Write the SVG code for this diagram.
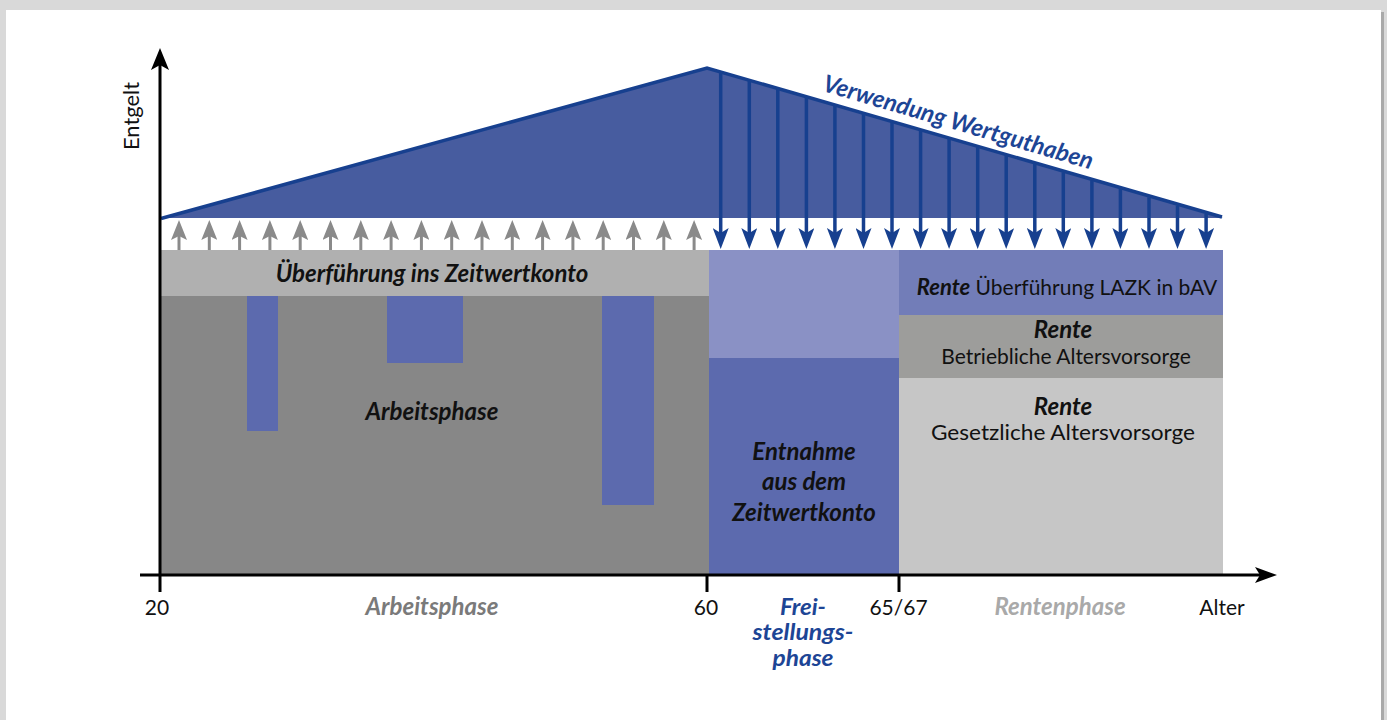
<svg xmlns="http://www.w3.org/2000/svg" width="1387" height="720" viewBox="0 0 1387 720">
<style>
text{font-family:Lato,"Open Sans","Liberation Sans",sans-serif;font-size:21px;fill:#111}
.bi{font-weight:bold;font-style:italic;font-size:24px}
.sm{font-size:22px}
.c{text-anchor:middle}
.blue{fill:#1d4595}
.ga{stroke:#8a8a8a;stroke-width:3;fill:none}
.ba{stroke:#17408f;stroke-width:3.5;fill:none}
.ax{stroke:#000;stroke-width:3;fill:none}
</style>
<defs>
<marker id="mGray" markerUnits="userSpaceOnUse" viewBox="0 0 20 16" markerWidth="20" markerHeight="16" refX="10" refY="8" orient="auto"><path d="M0,0 L20,8 L0,16 L4,8 Z" fill="#8a8a8a"/></marker>
<marker id="mBlue" markerUnits="userSpaceOnUse" viewBox="0 0 21 16" markerWidth="21" markerHeight="16" refX="11" refY="8" orient="auto"><path d="M0,0 L21,8 L0,16 L5,8 Z" fill="#17408f"/></marker>
<marker id="mAxisY" markerUnits="userSpaceOnUse" viewBox="0 0 22 18" markerWidth="22" markerHeight="18" refX="8" refY="9" orient="auto"><path d="M0,0 L22,9 L0,18 L5,9 Z" fill="#000"/></marker>
<marker id="mAxisX" markerUnits="userSpaceOnUse" viewBox="0 0 22 16" markerWidth="22" markerHeight="16" refX="8" refY="8" orient="auto"><path d="M0,0 L22,8 L0,16 L5,8 Z" fill="#000"/></marker>
</defs>
<rect x="0" y="0" width="1387" height="720" fill="#d9d9d9"/>
<rect x="8" y="12" width="1376" height="708" fill="#a9a9a9"/>
<rect x="6" y="10" width="1375" height="710" fill="#fff"/>

<g id="wertguthaben">
<polygon points="160,218 707,68 1223,218" fill="#475c9f"/>
<polyline points="161,218.5 707,68 1222,217" fill="none" stroke="#17408f" stroke-width="3.5"/>
<text class="bi blue c" x="956" y="130" transform="rotate(16.3 956 130)">Verwendung Wertguthaben</text>
</g>

<g id="ueberfuehrung">
<rect x="160" y="250" width="549" height="46" fill="#b0b0b0"/>
<text class="bi c" x="432" y="282">Überführung ins Zeitwertkonto</text>
</g>

<g id="arbeitsphase">
<rect x="160" y="296" width="549" height="279" fill="#878787"/>
<rect x="247" y="296" width="31" height="135" fill="#5c6aae"/>
<rect x="387" y="296" width="76" height="67" fill="#5c6aae"/>
<rect x="602" y="296" width="52" height="209" fill="#5c6aae"/>
<text class="bi c" x="432" y="420">Arbeitsphase</text>
</g>

<g id="freistellung">
<rect x="709" y="250" width="190" height="108" fill="#8a91c5"/>
<rect x="709" y="358" width="190" height="217" fill="#5c6aae"/>
<text class="bi c" x="804" y="460">Entnahme</text>
<text class="bi c" x="804" y="490">aus dem</text>
<text class="bi c" x="804" y="521">Zeitwertkonto</text>
</g>

<g id="rente-lazk">
<rect x="899" y="250" width="324" height="65" fill="#727db8"/>
<text class="c" x="1067" y="295"><tspan class="bi" style="font-size:22px">Rente</tspan> Überführung LAZK in bAV</text>
</g>

<g id="rente-bav">
<rect x="899" y="315" width="324" height="63" fill="#9d9d9b"/>
<text class="bi c" x="1063" y="338">Rente</text>
<text class="c" x="1066" y="364">Betriebliche Altersvorsorge</text>
</g>

<g id="rente-gesetzlich">
<rect x="899" y="378" width="324" height="197" fill="#c6c6c6"/>
<text class="bi c" x="1063" y="415">Rente</text>
<text class="c" x="1063" y="440" textLength="264" lengthAdjust="spacingAndGlyphs">Gesetzliche Altersvorsorge</text>
</g>

<g id="connectors">
<g class="ga" marker-end="url(#mGray)">
<line x1="179" y1="250" x2="179" y2="230"/>
<line x1="209.3" y1="250" x2="209.3" y2="230"/>
<line x1="239.6" y1="250" x2="239.6" y2="230"/>
<line x1="269.9" y1="250" x2="269.9" y2="230"/>
<line x1="300.2" y1="250" x2="300.2" y2="230"/>
<line x1="330.5" y1="250" x2="330.5" y2="230"/>
<line x1="360.8" y1="250" x2="360.8" y2="230"/>
<line x1="391.1" y1="250" x2="391.1" y2="230"/>
<line x1="421.4" y1="250" x2="421.4" y2="230"/>
<line x1="451.7" y1="250" x2="451.7" y2="230"/>
<line x1="482" y1="250" x2="482" y2="230"/>
<line x1="512.3" y1="250" x2="512.3" y2="230"/>
<line x1="542.6" y1="250" x2="542.6" y2="230"/>
<line x1="572.9" y1="250" x2="572.9" y2="230"/>
<line x1="603.2" y1="250" x2="603.2" y2="230"/>
<line x1="633.5" y1="250" x2="633.5" y2="230"/>
<line x1="663.8" y1="250" x2="663.8" y2="230"/>
<line x1="694.1" y1="250" x2="694.1" y2="230"/>
</g>
<g class="ba" marker-end="url(#mBlue)">
<line x1="720.7" y1="72" x2="720.7" y2="239"/>
<line x1="749.3" y1="80.4" x2="749.3" y2="239"/>
<line x1="777.8" y1="88.7" x2="777.8" y2="239"/>
<line x1="806.4" y1="97.1" x2="806.4" y2="239"/>
<line x1="834.9" y1="105.4" x2="834.9" y2="239"/>
<line x1="863.5" y1="113.8" x2="863.5" y2="239"/>
<line x1="892" y1="122.1" x2="892" y2="239"/>
<line x1="920.6" y1="130.5" x2="920.6" y2="239"/>
<line x1="949.1" y1="138.8" x2="949.1" y2="239"/>
<line x1="977.7" y1="147.2" x2="977.7" y2="239"/>
<line x1="1006.2" y1="155.5" x2="1006.2" y2="239"/>
<line x1="1034.8" y1="163.9" x2="1034.8" y2="239"/>
<line x1="1063.3" y1="172.3" x2="1063.3" y2="239"/>
<line x1="1091.9" y1="180.6" x2="1091.9" y2="239"/>
<line x1="1120.4" y1="189" x2="1120.4" y2="239"/>
<line x1="1149" y1="197.3" x2="1149" y2="239"/>
<line x1="1177.5" y1="205.7" x2="1177.5" y2="239"/>
<line x1="1206.1" y1="214" x2="1206.1" y2="239"/>
</g>
</g>

<g id="axes">
<line class="ax" x1="160" y1="592" x2="160" y2="62" marker-end="url(#mAxisY)"/>
<line class="ax" x1="140" y1="575" x2="1263" y2="575" marker-end="url(#mAxisX)"/>
<line class="ax" x1="707" y1="575" x2="707" y2="592"/>
<line class="ax" x1="899" y1="575" x2="899" y2="592"/>
<text x="139" y="116" transform="rotate(-90 139 116)" class="c" style="font-size:22px" textLength="68" lengthAdjust="spacingAndGlyphs">Entgelt</text>
<text class="c" x="157" y="615">20</text>
<text class="c" x="706" y="615">60</text>
<text class="c" x="898.5" y="615">65/67</text>
<text class="c" x="1222" y="615">Alter</text>
<text class="bi c" x="432" y="615" style="fill:#7a7a7a">Arbeitsphase</text>
<text class="bi sm c blue" x="803" y="615" textLength="46" lengthAdjust="spacingAndGlyphs">Frei-</text>
<text class="bi sm c blue" x="803" y="640" textLength="101" lengthAdjust="spacingAndGlyphs">stellungs-</text>
<text class="bi sm c blue" x="803" y="666" textLength="61" lengthAdjust="spacingAndGlyphs">phase</text>
<text class="bi c" x="1060" y="615" style="fill:#a9a9a9">Rentenphase</text>
</g>
</svg>
